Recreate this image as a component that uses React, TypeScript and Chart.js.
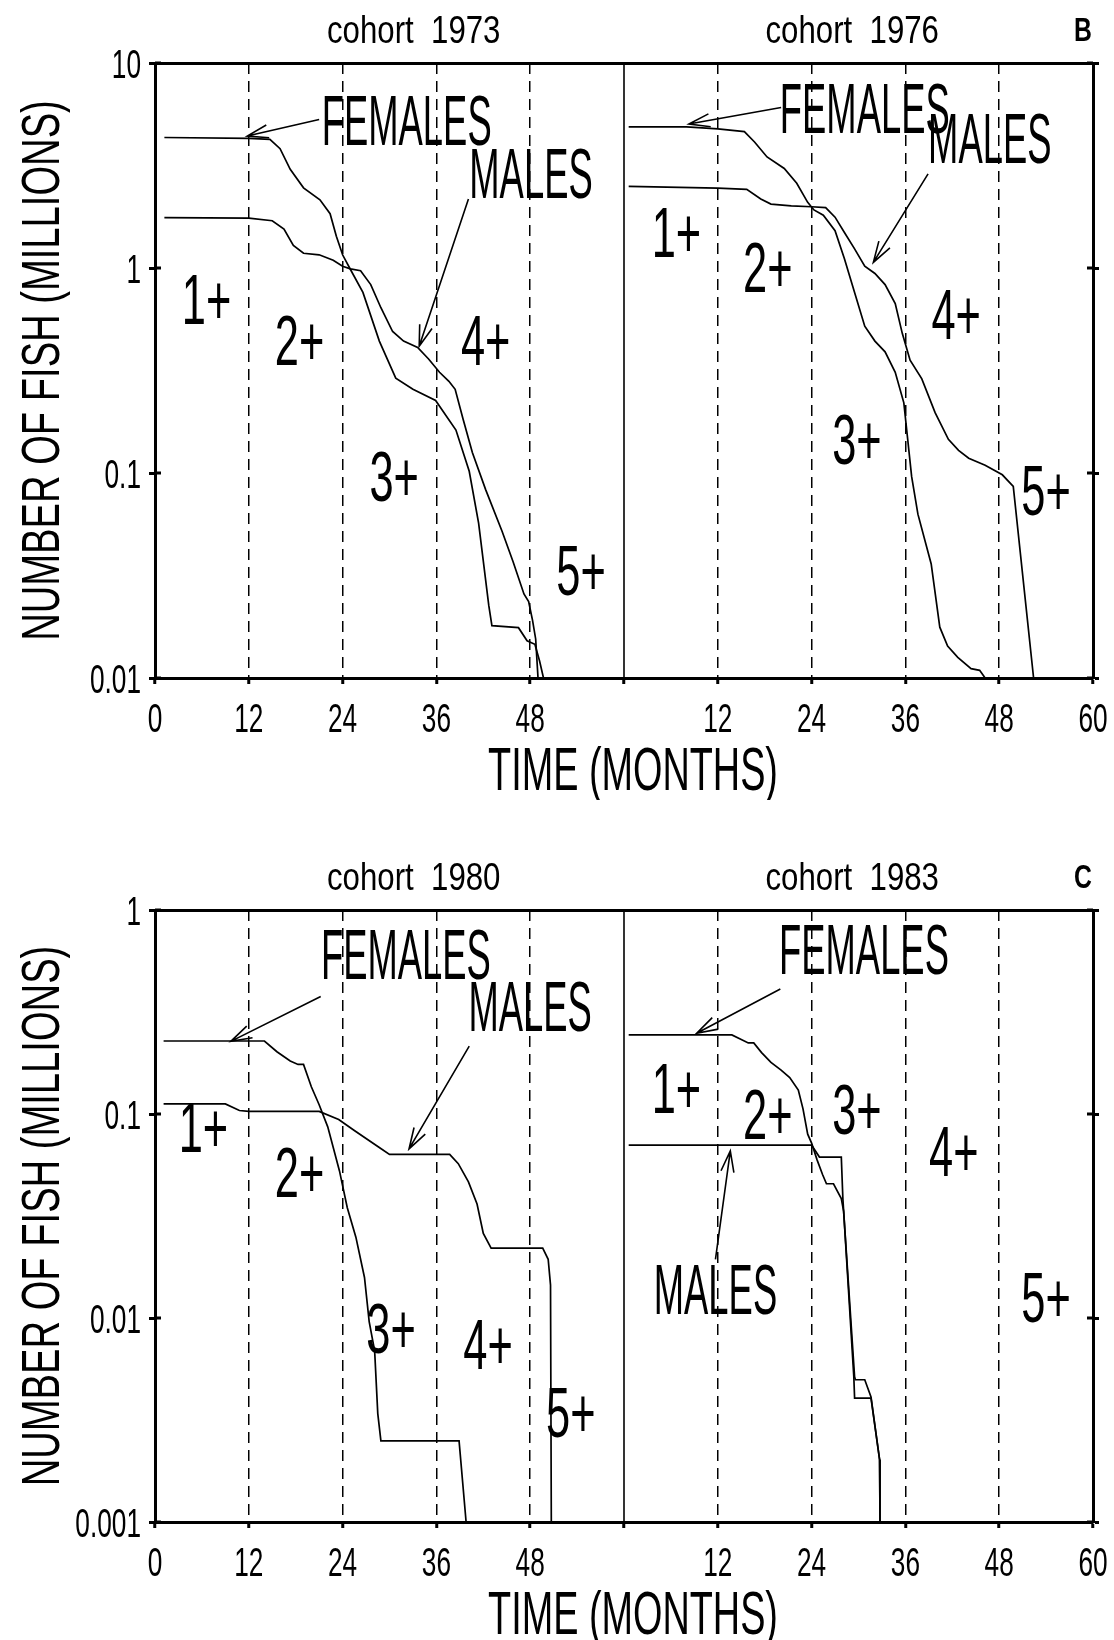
import React, { useEffect, useRef } from 'react';
import { Chart, registerables } from 'chart.js';

Chart.register(...registerables);

// ---------------- data (months since start of cohort, millions of fish) ----------------
const f73Months = [1.2, 12, 14.7, 16, 17.3, 19, 21.1, 22.4, 23.2, 24, 24.9, 26.6, 28.7, 30.8, 33, 35.9, 38.5, 40.2, 41.4, 42.7, 43.1, 46.5, 47.6, 48.6, 49.2, 49.7];
const f73Values = [4.33, 4.29, 4.24, 3.82, 3.03, 2.46, 2.15, 1.84, 1.43, 1.16, 1.0, 0.76, 0.44, 0.29, 0.256, 0.226, 0.162, 0.102, 0.057, 0.0226, 0.018, 0.0176, 0.0152, 0.0146, 0.0121, 0.01];
const m73Months = [1.2, 12, 15, 16.5, 17.7, 19, 21, 22.8, 24, 25, 26.3, 27.6, 28.9, 30.4, 31.8, 33.6, 35, 36.4, 37.6, 38.4, 39.4, 40.6, 42.3, 44.4, 45.8, 47.2, 47.8, 48.3, 48.7, 49];
const m73Values = [1.76, 1.75, 1.7, 1.55, 1.29, 1.18, 1.16, 1.09, 1.02, 0.99, 0.97, 0.83, 0.64, 0.49, 0.44, 0.41, 0.36, 0.31, 0.28, 0.256, 0.184, 0.126, 0.083, 0.052, 0.037, 0.0257, 0.0236, 0.0191, 0.0155, 0.01];

const f76Months = [0.6, 8, 12, 15.4, 16.7, 18.3, 20.5, 22.1, 23.5, 24.3, 25.5, 27, 28.2, 29.5, 30.8, 32.1, 33.4, 34.7, 35.8, 36.8, 37.6, 39.3, 40.4, 41.4, 42.7, 44.4, 45.5, 46.2];
const f76Values = [4.88, 4.88, 4.77, 4.63, 4.12, 3.48, 3.06, 2.59, 2.09, 1.92, 1.81, 1.52, 1.11, 0.76, 0.52, 0.44, 0.39, 0.31, 0.22, 0.096, 0.063, 0.036, 0.0177, 0.0143, 0.0126, 0.0111, 0.0109, 0.01];
const m76Months = [0.6, 12, 15.7, 17.5, 18.8, 21.4, 24, 25.8, 27, 28.2, 29.5, 30.8, 32.1, 33.4, 34.7, 35.6, 36.6, 38.1, 39.8, 41.5, 42.8, 44.1, 46.2, 48.4, 49.8, 52.4];
const m76Values = [2.5, 2.45, 2.42, 2.17, 2.05, 2.01, 1.99, 1.97, 1.77, 1.49, 1.24, 1.02, 0.94, 0.83, 0.67, 0.48, 0.355, 0.288, 0.197, 0.146, 0.129, 0.118, 0.109, 0.098, 0.086, 0.01];

const f80Months = [1.1, 14, 15.6, 17.3, 18.3, 19, 20, 21, 22.1, 23.6, 24.6, 25.7, 26.8, 27.4, 28.1, 28.5, 28.9, 38.9, 39.8];
const f80Values = [0.228, 0.228, 0.202, 0.182, 0.175, 0.175, 0.136, 0.111, 0.0865, 0.0526, 0.0347, 0.0249, 0.0158, 0.0096, 0.0069, 0.0034, 0.0025, 0.0025, 0.001];
const m80Months = [1.1, 9, 10.8, 12, 21, 23.5, 25.5, 28.6, 30, 37.7, 38.8, 40.1, 41.2, 42, 43, 49.6, 50.3, 50.6, 50.7];
const m80Values = [0.112, 0.112, 0.104, 0.103, 0.103, 0.094, 0.083, 0.0689, 0.0634, 0.0634, 0.0571, 0.0465, 0.0362, 0.026, 0.022, 0.022, 0.0194, 0.0145, 0.001];

const f83Months = [0.6, 13.8, 15, 15.9, 16.6, 17.6, 18.8, 20.1, 21.2, 22.3, 22.9, 23.5, 24, 24.7, 25.4, 25.9, 26.8, 27.8, 28.1, 29.5, 29.6, 30.8, 31.6, 32.7, 32.75];
const f83Values = [0.244, 0.244, 0.232, 0.223, 0.223, 0.2, 0.179, 0.164, 0.151, 0.131, 0.106, 0.0796, 0.072, 0.0596, 0.0505, 0.0455, 0.0455, 0.0385, 0.0333, 0.00515, 0.00498, 0.00498, 0.0041, 0.00202, 0.001];
const m83Months = [0.6, 24, 25, 27.8, 28, 29.4, 29.5, 31.6, 32.7, 32.75];
const m83Values = [0.0704, 0.0704, 0.0615, 0.0615, 0.0385, 0.00515, 0.00405, 0.00405, 0.00202, 0.001];

// axis ticks
const xTickLabels = ['0', '12', '24', '36', '48', '', '12', '24', '36', '48', '60'];
const yTicksB = [0.01, 0.1, 1, 10];
const yTickLabelsB = ['0.01', '0.1', '1', '10'];
const yTicksC = [0.001, 0.01, 0.1, 1];
const yTickLabelsC = ['0.001', '0.01', '0.1', '1'];

// text labels placed in data coordinates: [text, month, value]
type Lbl = [string, number, number];
type Arr = [number, number, number, number];

const labelsB_L: Lbl[] = [['FEMALES', 32.2, 5.27], ['MALES', 48.1, 2.9], ['1+', 6.6, 0.71], ['2+', 18.5, 0.446], ['3+', 30.6, 0.0966], ['4+', 42.3, 0.446], ['5+', 54.5, 0.0337]];
const labelsB_R: Lbl[] = [['FEMALES', 30.8, 6.03], ['MALES', 46.8, 4.3], ['1+', 6.7, 1.5], ['2+', 18.4, 1.01], ['3+', 29.8, 0.147], ['4+', 42.5, 0.597], ['5+', 54, 0.0826]];
const arrowsB_L: Arr[] = [[21.0, 5.3, 11.8, 4.4], [40.1, 2.17, 33.8, 0.415]];
const arrowsB_R: Arr[] = [[20.1, 6.07, 8.3, 5.04], [38.9, 2.88, 31.9, 1.065]];

const labelsC_L: Lbl[] = [['FEMALES', 32.1, 0.608], ['MALES', 48, 0.339], ['1+', 6.2, 0.086], ['2+', 18.5, 0.052], ['3+', 30.2, 0.0089], ['4+', 42.6, 0.00746], ['5+', 53.2, 0.00347]];
const labelsC_R: Lbl[] = [['FEMALES', 30.7, 0.644], ['MALES', 11.7, 0.0139], ['1+', 6.7, 0.134], ['2+', 18.4, 0.1], ['3+', 29.8, 0.106], ['4+', 42.2, 0.0659], ['5+', 54, 0.0127]];
const arrowsC_L: Arr[] = [[21.2, 0.377, 9.7, 0.227], [40.2, 0.215, 32.5, 0.0674]];
const arrowsC_R: Arr[] = [[20, 0.41, 9.3, 0.249], [11.7, 0.0194, 13.6, 0.066]];

const FONT = '"Liberation Sans", Arial, sans-serif';

const pts = (xs: number[], ys: number[]) => xs.map((x, i) => ({ x, y: ys[i] }));

function drawText(
  ctx: CanvasRenderingContext2D,
  text: string,
  x: number,
  y: number,
  size: number,
  sx: number,
  opts: { rotate?: boolean; bold?: boolean; align?: CanvasTextAlign } = {}
) {
  ctx.save();
  ctx.font = `${opts.bold ? 'bold ' : ''}${size}px ${FONT}`;
  ctx.translate(x, y);
  if (opts.rotate) ctx.rotate(-Math.PI / 2);
  ctx.scale(sx, 1);
  ctx.textAlign = opts.align || 'center';
  ctx.textBaseline = 'alphabetic';
  ctx.fillStyle = '#000';
  ctx.fillText(text, 0, 0.358 * size);
  ctx.restore();
}

function drawArrow(ctx: CanvasRenderingContext2D, x1: number, y1: number, x2: number, y2: number) {
  const a = Math.atan2(y2 - y1, x2 - x1);
  const L = 22;
  const d = 0.3;
  ctx.save();
  ctx.strokeStyle = '#000';
  ctx.lineWidth = 1.6;
  ctx.beginPath();
  ctx.moveTo(x1, y1);
  ctx.lineTo(x2, y2);
  ctx.moveTo(x2 - L * Math.cos(a - d), y2 - L * Math.sin(a - d));
  ctx.lineTo(x2, y2);
  ctx.lineTo(x2 - L * Math.cos(a + d), y2 - L * Math.sin(a + d));
  ctx.stroke();
  ctx.restore();
}

interface Series { fm: number[]; fv: number[]; mm: number[]; mv: number[] }

interface PanelProps {
  top: number;
  height: number;
  areaTop: number;
  areaBottom: number;
  yMin: number;
  yMax: number;
  yTicks: number[];
  yTickLabels: string[];
  titleL: string;
  titleR: string;
  letter: string;
  left: Series;
  right: Series;
  labelsL: Lbl[];
  labelsR: Lbl[];
  arrowsL: Arr[];
  arrowsR: Arr[];
}

function Panel(p: PanelProps) {
  const ref = useRef<HTMLCanvasElement>(null);
  useEffect(() => {
    if (!ref.current) return;
    const W = 1114;
    const lineStyle = { borderColor: '#000', borderWidth: 1.7, pointRadius: 0, tension: 0, fill: false, yAxisID: 'y' };
    const annot = {
      id: 'annot' + p.letter,
      afterDraw(chart: any) {
        const ctx: CanvasRenderingContext2D = chart.ctx;
        const xs = chart.scales.x;
        const xr = chart.scales.xR;
        const ys = chart.scales.y;
        const area = chart.chartArea;
        // divider between the two cohorts
        const xd = xs.getPixelForValue(60);
        ctx.save();
        ctx.strokeStyle = '#000';
        ctx.lineWidth = 1.6;
        ctx.beginPath();
        ctx.moveTo(xd, area.top);
        ctx.lineTo(xd, area.bottom);
        ctx.stroke();
        // inner halves of the y tick marks (they cross the frame)
        ctx.lineWidth = 3;
        ctx.beginPath();
        ys.ticks.forEach((t: any) => {
          const yy = ys.getPixelForValue(t.value);
          ctx.moveTo(area.left, yy);
          ctx.lineTo(area.left + 6, yy);
          ctx.moveTo(area.right - 6, yy);
          ctx.lineTo(area.right, yy);
        });
        ctx.stroke();
        ctx.restore();
        // tick labels, positioned by the scales
        xs.ticks.forEach((t: any, i: number) => {
          const lab = xTickLabels[i];
          if (lab) drawText(ctx, lab, xs.getPixelForValue(t.value), area.bottom + 39, 41, 0.64);
        });
        ys.ticks.forEach((t: any) => {
          const lab = p.yTickLabels[p.yTicks.indexOf(t.value)];
          if (lab) drawText(ctx, lab, area.left - 14, ys.getPixelForValue(t.value), 41, 0.64, { align: 'right' });
        });
        // titles
        drawText(ctx, p.titleL, xs.getPixelForValue(33.1), area.top - 34, 39, 0.8);
        drawText(ctx, p.titleR, xr.getPixelForValue(29.2), area.top - 34, 39, 0.8);
        drawText(ctx, p.letter, area.right - 10, area.top - 34, 33, 0.75, { bold: true });
        // axis titles
        drawText(ctx, 'NUMBER OF FISH (MILLIONS)', 40, (area.top + area.bottom) / 2, 53, 0.72, { rotate: true });
        drawText(ctx, 'TIME (MONTHS)', (area.left + area.right) / 2 + 9, area.bottom + 90, 61, 0.62);
        // in-plot labels
        const put = (lbls: Lbl[], sc: any) => {
          lbls.forEach(([t, m, v]) => {
            const big = t.length > 2;
            drawText(ctx, t, sc.getPixelForValue(m), ys.getPixelForValue(v), 70, big ? 0.52 : 0.62);
          });
        };
        put(p.labelsL, xs);
        put(p.labelsR, xr);
        p.arrowsL.forEach(([m1, v1, m2, v2]) => drawArrow(ctx, xs.getPixelForValue(m1), ys.getPixelForValue(v1), xs.getPixelForValue(m2), ys.getPixelForValue(v2)));
        p.arrowsR.forEach(([m1, v1, m2, v2]) => drawArrow(ctx, xr.getPixelForValue(m1), ys.getPixelForValue(v1), xr.getPixelForValue(m2), ys.getPixelForValue(v2)));
      },
    };
    const chart = new Chart(ref.current, {
      type: 'line',
      data: {
        datasets: [
          { ...lineStyle, label: 'Females ' + p.titleL, data: pts(p.left.fm, p.left.fv), xAxisID: 'x' },
          { ...lineStyle, label: 'Males ' + p.titleL, data: pts(p.left.mm, p.left.mv), xAxisID: 'x' },
          { ...lineStyle, label: 'Females ' + p.titleR, data: pts(p.right.fm, p.right.fv), xAxisID: 'xR' },
          { ...lineStyle, label: 'Males ' + p.titleR, data: pts(p.right.mm, p.right.mv), xAxisID: 'xR' },
        ] as any,
      },
      options: {
        animation: false,
        responsive: false,
        maintainAspectRatio: false,
        events: [],
        layout: { padding: 0 },
        plugins: { legend: { display: false }, tooltip: { enabled: false }, title: { display: false } },
        scales: {
          x: {
            type: 'linear',
            position: 'bottom',
            min: 0,
            max: 120,
            afterFit: (s: any) => { s.height = p.height - p.areaBottom; },
            ticks: { stepSize: 12, autoSkip: false, maxRotation: 0, display: false },
            grid: {
              drawOnChartArea: true,
              color: (c: any) => {
                const v = c.tick ? c.tick.value : 0;
                return v % 60 === 0 ? 'rgba(0,0,0,0)' : '#000';
              },
              lineWidth: 1.5,
              tickColor: '#000',
              tickWidth: 3,
              tickLength: 6,
            },
            border: { display: true, color: '#000', width: 3, dash: [11, 7] },
          },
          xR: { type: 'linear', display: false, min: -60, max: 60 },
          xTop: {
            type: 'linear',
            position: 'top',
            min: 0,
            max: 120,
            afterFit: (s: any) => { s.height = p.areaTop; },
            ticks: { display: false },
            grid: { display: false },
            border: { display: true, color: '#000', width: 3 },
          },
          y: {
            type: 'logarithmic',
            position: 'left',
            min: p.yMin,
            max: p.yMax,
            afterFit: (s: any) => { s.width = 155; },
            afterBuildTicks: (s: any) => { s.ticks = p.yTicks.map((v) => ({ value: v, major: true })); },
            ticks: { display: false, autoSkip: false },
            grid: { drawOnChartArea: false, color: '#000', tickColor: '#000', tickWidth: 3, tickLength: 6 },
            border: { display: true, color: '#000', width: 3 },
          },
          yR: {
            type: 'logarithmic',
            position: 'right',
            min: p.yMin,
            max: p.yMax,
            afterFit: (s: any) => { s.width = W - 1093; },
            afterBuildTicks: (s: any) => { s.ticks = p.yTicks.map((v) => ({ value: v, major: true })); },
            ticks: { display: false },
            grid: { drawOnChartArea: false, color: '#000', tickColor: '#000', tickWidth: 3, tickLength: 6 },
            border: { display: true, color: '#000', width: 3 },
          },
        },
      } as any,
      plugins: [annot],
    });
    return () => chart.destroy();
  }, []);
  return (
    <canvas
      ref={ref}
      width={1114}
      height={p.height}
      style={{ position: 'absolute', left: 0, top: p.top, width: 1114, height: p.height }}
    />
  );
}

export default function App() {
  return (
    <div style={{ position: 'absolute', left: 0, top: 0, width: 1114, height: 1640, background: '#fff' }}>
      <Panel
        top={0}
        height={800}
        areaTop={63}
        areaBottom={678}
        yMin={0.01}
        yMax={10}
        yTicks={yTicksB}
        yTickLabels={yTickLabelsB}
        titleL="cohort  1973"
        titleR="cohort  1976"
        letter="B"
        left={{ fm: f73Months, fv: f73Values, mm: m73Months, mv: m73Values }}
        right={{ fm: f76Months, fv: f76Values, mm: m76Months, mv: m76Values }}
        labelsL={labelsB_L}
        labelsR={labelsB_R}
        arrowsL={arrowsB_L}
        arrowsR={arrowsB_R}
      />
      <Panel
        top={800}
        height={840}
        areaTop={110}
        areaBottom={722}
        yMin={0.001}
        yMax={1}
        yTicks={yTicksC}
        yTickLabels={yTickLabelsC}
        titleL="cohort  1980"
        titleR="cohort  1983"
        letter="C"
        left={{ fm: f80Months, fv: f80Values, mm: m80Months, mv: m80Values }}
        right={{ fm: f83Months, fv: f83Values, mm: m83Months, mv: m83Values }}
        labelsL={labelsC_L}
        labelsR={labelsC_R}
        arrowsL={arrowsC_L}
        arrowsR={arrowsC_R}
      />
    </div>
  );
}
